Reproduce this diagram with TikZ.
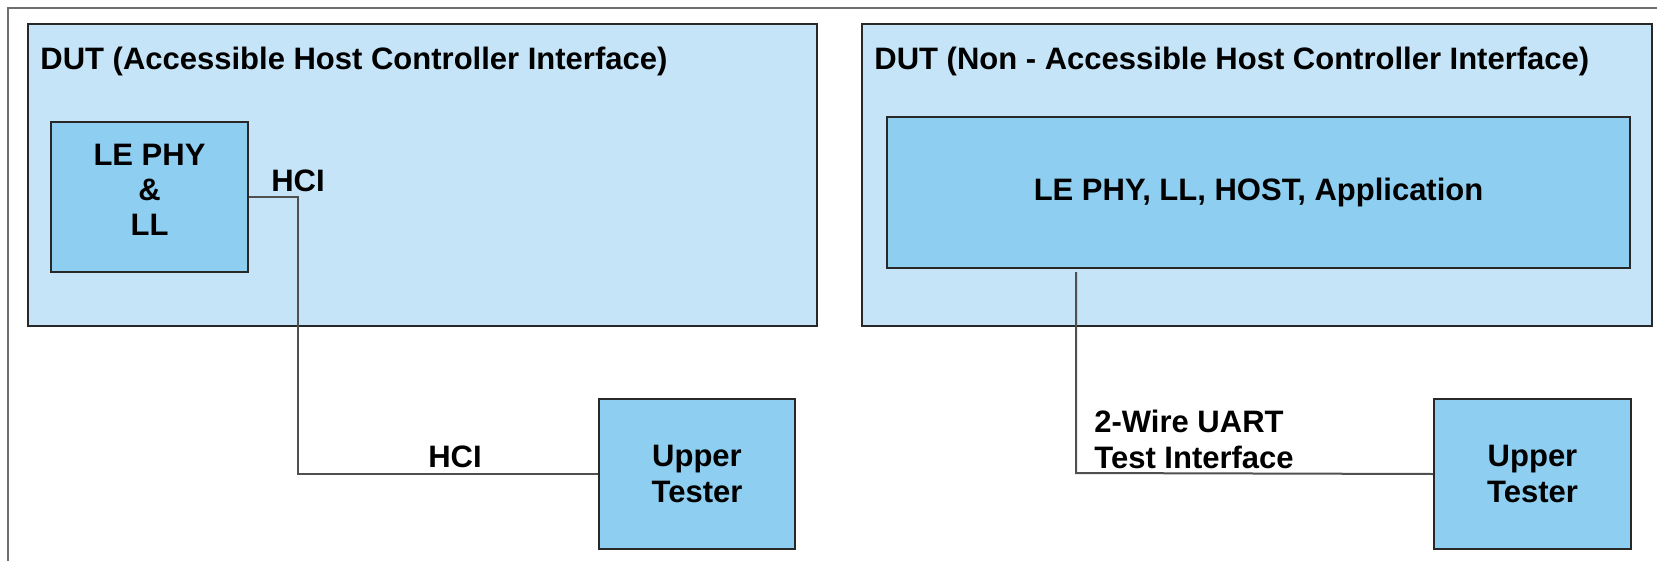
\documentclass[tikz,border=0pt]{standalone}
\usepackage{fontspec}
\setmainfont{Liberation Sans}
\definecolor{dutfill}{RGB}{197,228,247}
\definecolor{blkfill}{RGB}{142,206,240}
\definecolor{edgec}{RGB}{40,40,40}
\definecolor{wirec}{RGB}{80,80,80}
\definecolor{framec}{RGB}{110,110,110}
\tikzset{
  txt/.style={font=\bfseries\fontsize{15.5}{18}\selectfont},
  dutbox/.style={draw=edgec, line width=1pt, fill=dutfill, inner sep=0pt},
  blkbox/.style={draw=edgec, line width=1pt, fill=blkfill, inner sep=0pt, align=center, txt},
  lbl/.style={inner sep=0pt, txt},
  wire/.style={draw=wirec, line width=1pt},
  frame/.style={draw=framec, line width=1.2pt}
}
\begin{document}
\begin{tikzpicture}[x=0.5pt,y=-0.5pt]
\useasboundingbox (0,0) rectangle (1657,561);
\coordinate (fa) at (8,561);
\coordinate (fb) at (8,8);
\coordinate (fc) at (1657,8);
\draw[frame] (fa) -- (fb) -- (fc);

% DUT boxes
\node[dutbox, minimum width=394.5pt, minimum height=151pt] (dutL) at (422.5,175) {};
\node[dutbox, minimum width=395pt, minimum height=151pt] (dutR) at (1257,175) {};

% titles
\node[lbl, anchor=west] (titleL) at (40,61) {DUT (Accessible Host Controller Interface)};
\node[lbl, anchor=west] (titleR) at (874,61) {DUT (Non - Accessible Host Controller Interface)};

% inner blocks
\node[blkbox, minimum width=98.5pt, minimum height=75pt] (phy) at (149.5,197) {};
\node[lbl, align=center, font=\bfseries\fontsize{15.5}{17.5}\selectfont] (phytxt) at (149.5,190) {LE PHY\\\&\\LL};
\node[blkbox, minimum width=371.5pt, minimum height=75.5pt] (stack) at (1258.5,192.5) {LE PHY, LL, HOST, Application};

% testers
\node[blkbox, minimum width=98pt, minimum height=75pt] (testL) at (697,474) {Upper\\Tester};
\node[blkbox, minimum width=98.5pt, minimum height=75pt] (testR) at (1532.5,474) {Upper\\Tester};

% connectors
\coordinate (cL) at (298,474);
\draw[wire] (phy.east) -| (cL) -- (testL.west);
\coordinate (r0) at (1076,272);
\coordinate (r1) at (1076,473);
\draw[wire] (r0) -- (r1) -- (testR.west);

% connector labels
\node[lbl] (hciA) at (298,181) {HCI};
\node[lbl] (hciB) at (455,457) {HCI};
\node[lbl, anchor=west, align=left] (uart) at (1094,439) {2-Wire UART\\Test Interface};
\end{tikzpicture}
\end{document}
